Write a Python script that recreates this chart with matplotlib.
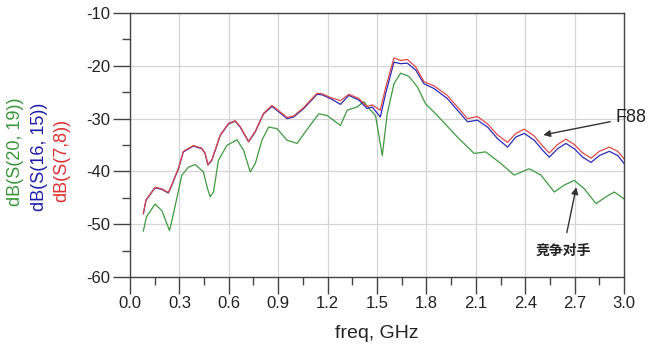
import matplotlib as mpl

mpl.use("Agg")

import matplotlib.pyplot as plt
from matplotlib.ticker import MultipleLocator, FormatStrFormatter

FONT = ["Liberation Sans", "Noto Sans CJK SC", "DejaVu Sans"]
mpl.rcParams["axes.unicode_minus"] = False

# F88 traces (blue = S(16,15), red = S(7,8)) share one frequency grid
F88_FREQ = [0.081, 0.097, 0.152, 0.193, 0.233, 0.254, 0.294, 0.324, 0.385, 0.436,
            0.456, 0.473, 0.497, 0.548, 0.598, 0.639, 0.669, 0.72, 0.761, 0.811,
            0.862, 0.903, 0.954, 0.994, 1.055, 1.136, 1.167, 1.217, 1.278, 1.329,
            1.39, 1.44, 1.471, 1.52, 1.552, 1.603, 1.643, 1.684, 1.735, 1.785,
            1.846, 1.927, 1.988, 2.05, 2.11, 2.171, 2.232, 2.293, 2.343, 2.394,
            2.455, 2.506, 2.546, 2.597, 2.647, 2.698, 2.749, 2.80, 2.85, 2.911,
            2.962, 3.0]
S16_15 = [-48.0, -45.5, -43.1, -43.4, -44.1, -42.6, -39.5, -36.3, -35.2, -35.7,
          -36.6, -38.8, -37.9, -33.2, -31.0, -30.5, -31.6, -34.4, -32.5, -29.1,
          -27.7, -28.7, -30.0, -29.7, -28.1, -25.4, -25.5, -26.2, -27.3, -25.6,
          -26.5, -28.1, -27.8, -29.7, -25.3, -19.3, -19.6, -19.5, -20.8, -23.4,
          -24.3, -26.2, -28.4, -30.6, -30.3, -31.6, -33.8, -35.4, -33.5, -32.8,
          -34.1, -36.0, -37.3, -35.7, -34.7, -35.7, -37.3, -38.3, -37.0, -36.2,
          -37.0, -38.5]
S7_8 = [-48.0, -45.4, -43.0, -43.3, -44.0, -42.5, -39.4, -36.2, -35.1, -35.6,
        -36.5, -38.7, -37.8, -33.1, -30.9, -30.4, -31.5, -34.3, -32.4, -29.0,
        -27.5, -28.5, -29.8, -29.5, -27.9, -25.2, -25.3, -26.0, -26.6, -25.4,
        -26.2, -27.7, -27.4, -28.4, -24.2, -18.5, -19.0, -18.8, -20.2, -23.0,
        -23.8, -25.6, -27.8, -30.0, -29.6, -31.0, -33.1, -34.5, -32.8, -32.0,
        -33.3, -35.2, -36.5, -34.9, -33.9, -34.9, -36.5, -37.5, -36.2, -35.4,
        -36.2, -37.6]

# competitor trace S(20,19)
COMP_FREQ = [0.081, 0.10, 0.152, 0.193, 0.24, 0.264, 0.315, 0.355, 0.396, 0.446,
             0.471, 0.487, 0.507, 0.537, 0.588, 0.649, 0.69, 0.73, 0.761, 0.801,
             0.842, 0.893, 0.954, 1.015, 1.065, 1.146, 1.197, 1.278, 1.319, 1.379,
             1.42, 1.46, 1.491, 1.532, 1.562, 1.603, 1.643, 1.694, 1.745, 1.795,
             1.866, 1.988, 2.09, 2.16, 2.252, 2.333, 2.424, 2.495, 2.577, 2.637,
             2.698, 2.759, 2.83, 2.891, 2.941, 3.0]
S20_19 = [-51.3, -48.6, -46.2, -47.4, -51.2, -48.0, -40.7, -39.2, -38.7, -40.1,
          -43.3, -44.8, -43.9, -37.9, -35.1, -34.0, -36.0, -40.1, -38.5, -34.1,
          -31.6, -31.9, -34.1, -34.7, -32.5, -29.1, -29.4, -31.3, -28.4, -27.8,
          -26.8, -28.4, -29.4, -37.0, -29.1, -23.4, -21.4, -22.0, -24.0, -27.2,
          -29.4, -33.5, -36.6, -36.3, -38.5, -40.7, -39.5, -40.7, -43.9, -42.6,
          -41.7, -43.3, -46.1, -44.8, -43.9, -45.2]

SERIES_LABELS = ["dB(S(20, 19))", "dB(S(16, 15))", "dB(S(7,8))"]
SERIES_COLORS = ["#3f9a3f", "#2a2ab8", "#e04848"]
LABEL_COLORS = ["#3a963a", "#1c1ca8", "#e03030"]

fig = plt.figure(figsize=(6.52, 3.61), dpi=100)
ax = fig.add_axes([130 / 652, 1 - 277 / 361, 494 / 652, 264 / 361])

ax.plot(COMP_FREQ, S20_19, color=SERIES_COLORS[0], lw=0.9)
ax.plot(F88_FREQ, S16_15, color=SERIES_COLORS[1], lw=0.9)
ax.plot(F88_FREQ, S7_8, color=SERIES_COLORS[2], lw=0.9)

ax.set_xlim(0, 3.0)
ax.set_ylim(-60, -10)
ax.xaxis.set_major_locator(MultipleLocator(0.3))
ax.xaxis.set_minor_locator(MultipleLocator(0.15))
ax.yaxis.set_major_locator(MultipleLocator(10))
ax.yaxis.set_minor_locator(MultipleLocator(5))
ax.xaxis.set_major_formatter(FormatStrFormatter("%.1f"))
ax.grid(which="major", color="#d4d4d4", lw=0.9)
ax.set_axisbelow(True)
ax.tick_params(which="major", direction="out", length=12, width=1, color="#444444",
               labelsize=12, pad=2, labelcolor="#222222")
ax.tick_params(which="minor", direction="out", length=6, width=1, color="#444444")
for lab in ax.get_xticklabels() + ax.get_yticklabels():
    lab.set_family(FONT)
for spine in ax.spines.values():
    spine.set_color("#444444")
    spine.set_linewidth(1.0)

ax.set_xlabel("freq, GHz", fontsize=14, family=FONT, labelpad=10, color="#222222")

# stacked, coloured y labels
for xpx, ypx, text, color in zip([16, 39, 62], [152, 157, 160], SERIES_LABELS, LABEL_COLORS):
    fig.text(xpx / 652, 1 - ypx / 361, text, rotation=90, color=color, fontsize=13,
             family=FONT, ha="center", va="center")

ax.annotate("F88", xy=(2.51, -33.1), xytext=(2.95, -29.8), fontsize=13, family=FONT,
            va="center", ha="left", annotation_clip=False, color="#222222",
            arrowprops=dict(arrowstyle="-|>", color="#333333", lw=1.0,
                            mutation_scale=10, shrinkA=2, shrinkB=0))
ax.annotate("竞争对手", xy=(2.71, -43.0), xytext=(2.63, -55.0), fontsize=10,
            family=FONT, fontweight="bold", va="center", ha="center", color="#222222",
            arrowprops=dict(arrowstyle="-|>", color="#333333", lw=1.0,
                            mutation_scale=10, shrinkA=6, shrinkB=0))

fig.savefig("out.png", dpi=100, facecolor="white")
